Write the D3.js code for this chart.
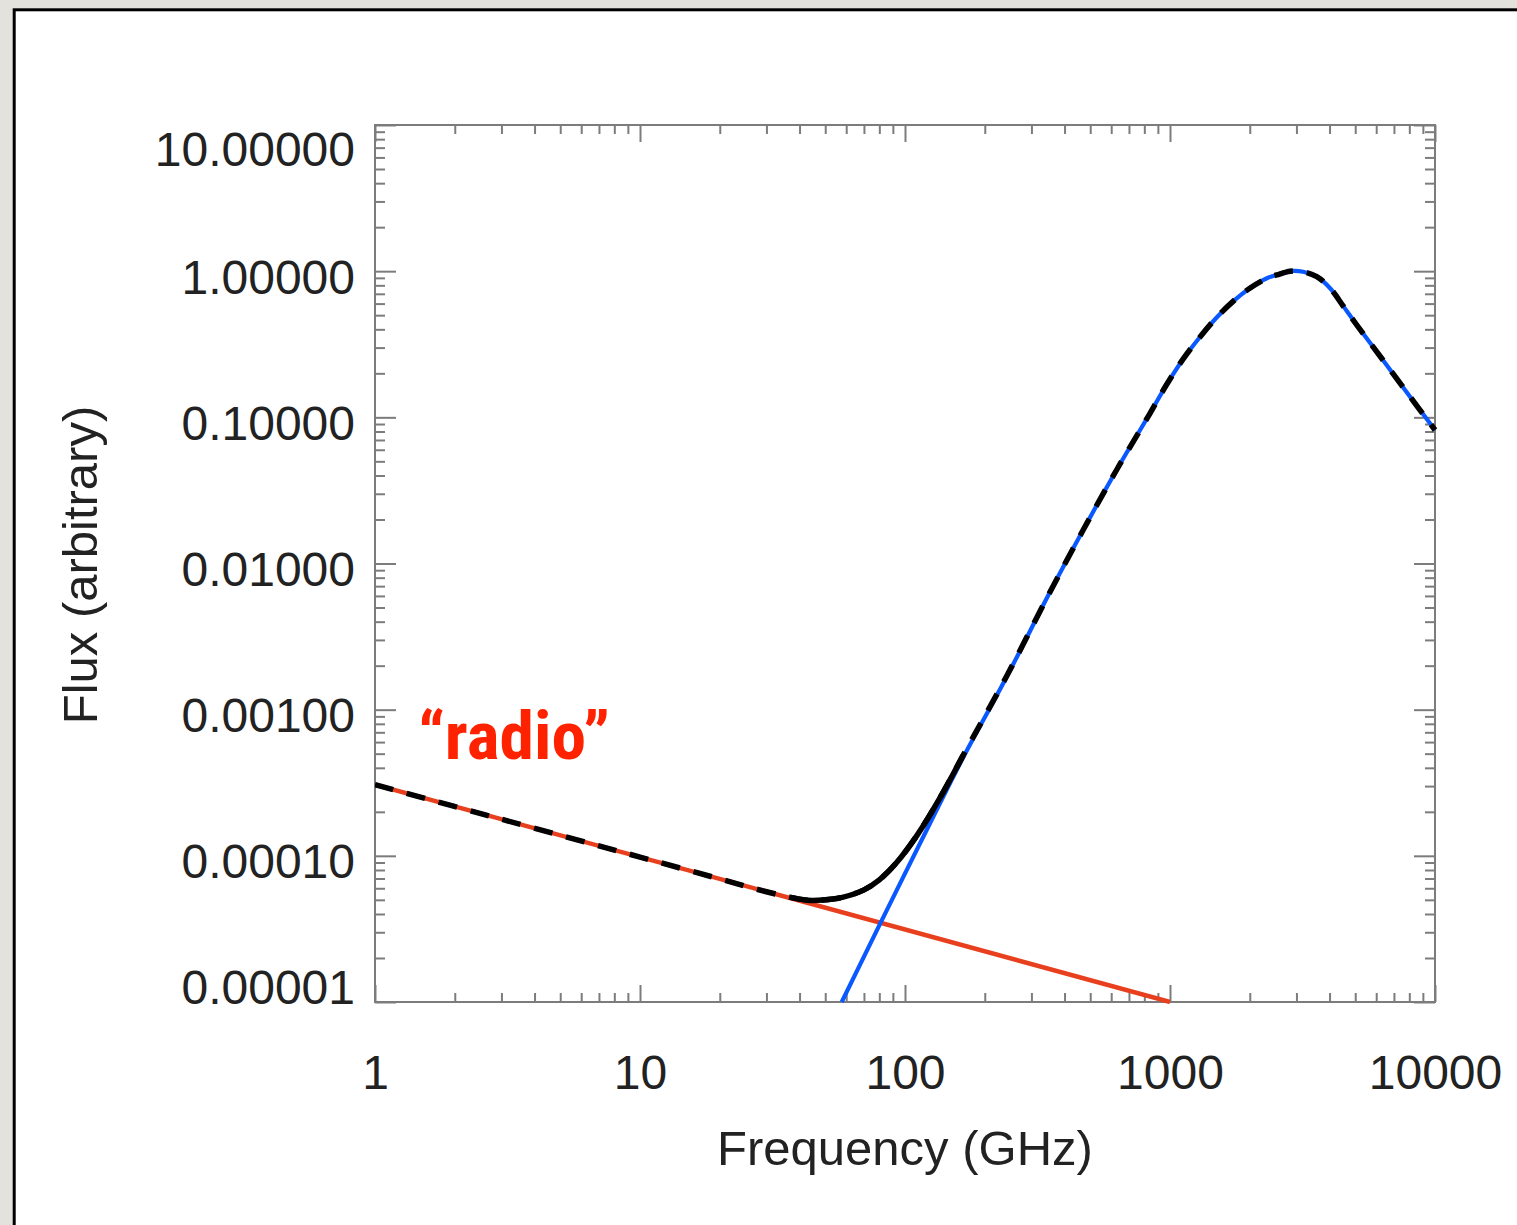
<!DOCTYPE html>
<html>
<head>
<meta charset="utf-8">
<script src="https://cdn.jsdelivr.net/npm/d3@7"></script>
<style>
  html, body { margin: 0; padding: 0; background: #e3e2dd; }
  svg { display: block; }
</style>
</head>
<body>
<svg id="chart" width="1517" height="1225"></svg>
<script>
// ---------------- data ----------------
const xTickValues = [1, 10, 100, 1000, 10000];
const xTickLabels = ["1", "10", "100", "1000", "10000"];
const yTickValues = [1e-5, 1e-4, 1e-3, 1e-2, 1e-1, 1, 10];
const yTickLabels = ["0.00001", "0.00010", "0.00100", "0.01000", "0.10000", "1.00000", "10.00000"];

// "radio" power law (red)
const radioNu   = [1, 1000];
const radioFlux = [3.07e-4, 1.0e-5];

// thermal dust (blue)
const dustNu   = [57.7, 80.5, 124.3, 165.5, 242, 352.5, 469.6, 629.4, 840.6, 970, 1120, 1300, 1500, 1730, 2000, 2320, 2530, 2840, 3180, 3580, 4020, 4520, 5060, 6370, 8050, 10000];
const dustFlux = [1.0e-5, 3.42e-5, 1.67e-4, 4.68e-4, 1.68e-3, 6.38e-3, 0.01687, 0.0438, 0.1066, 0.167, 0.250, 0.356, 0.482, 0.621, 0.764, 0.894, 0.942, 1.0, 0.99, 0.917, 0.764, 0.572, 0.430, 0.2457, 0.1384, 0.0819];

// total (black)
const totalNu   = [1, 3, 10, 20, 30, 37, 43, 49, 58, 70, 80, 93, 111, 136, 165.5, 242, 352.5, 469.6, 629.4, 840.6, 970, 1120, 1300, 1500, 1730, 2000, 2320, 2530, 2840, 3180, 3580, 4020, 4520, 5060, 6370, 8050, 10000];
const totalFlux = [3.07e-4, 1.78e-4, 9.81e-5, 6.95e-5, 5.68e-5, 5.2e-5, 4.97e-5, 4.99e-5, 5.2e-5, 5.85e-5, 6.85e-5, 9.0e-5, 1.38e-4, 2.52e-4, 4.85e-4, 1.70e-3, 6.38e-3, 0.01687, 0.0438, 0.1066, 0.167, 0.250, 0.356, 0.482, 0.621, 0.764, 0.894, 0.942, 1.0, 0.99, 0.917, 0.764, 0.572, 0.430, 0.2457, 0.1384, 0.0819];
// frequency range where the total departs from both components (drawn solid)
const totalSolidRange = [36, 170];

const xTitle = "Frequency (GHz)";
const yTitle = "Flux (arbitrary)";
const annotation = "\u201Cradio\u201D";

// ---------------- layout ----------------
const X0 = 375, X1 = 1435, Y0 = 125, Y1 = 1002;
const svg = d3.select("#chart");

svg.append("rect")
  .attr("x", 14.2).attr("y", 9.8)
  .attr("width", 1600).attr("height", 1400)
  .attr("fill", "#ffffff").attr("stroke", "#000").attr("stroke-width", 3);

const x = d3.scaleLog().domain([1, 10000]).range([X0, X1]);
const y = d3.scaleLog().domain([1e-5, 10]).range([Y1, Y0]);

const minorX = x.ticks().filter(v => !xTickValues.some(t => Math.abs(t - v) / t < 1e-9));
const minorY = y.ticks().filter(v => !yTickValues.some(t => Math.abs(t - v) / t < 1e-9));

const axisColor = "#7c7c7c";
const font = "'Liberation Sans', Arial, Helvetica, sans-serif";

function styleAxis(g) {
  g.select(".domain").remove();
  g.selectAll(".tick line").attr("stroke", axisColor).attr("stroke-width", 2);
  g.attr("font-family", font).attr("font-size", 48);
  g.selectAll(".tick text").attr("fill", "#222");
}

// frame
svg.append("rect")
  .attr("x", X0).attr("y", Y0).attr("width", X1 - X0).attr("height", Y1 - Y0)
  .attr("fill", "none").attr("stroke", axisColor).attr("stroke-width", 2);

// bottom axis (major with labels, minor)
svg.append("g").attr("transform", `translate(0,${Y1})`)
  .call(d3.axisBottom(x).tickValues(xTickValues).tickSizeInner(-17).tickSizeOuter(0)
    .tickPadding(53).tickFormat((d, i) => xTickLabels[i]))
  .call(styleAxis);
svg.append("g").attr("transform", `translate(0,${Y1})`)
  .call(d3.axisBottom(x).tickValues(minorX).tickSizeInner(-9).tickSizeOuter(0).tickFormat(""))
  .call(styleAxis);
// top axis
svg.append("g").attr("transform", `translate(0,${Y0})`)
  .call(d3.axisTop(x).tickValues(xTickValues).tickSizeInner(-17).tickSizeOuter(0).tickFormat(""))
  .call(styleAxis);
svg.append("g").attr("transform", `translate(0,${Y0})`)
  .call(d3.axisTop(x).tickValues(minorX).tickSizeInner(-9).tickSizeOuter(0).tickFormat(""))
  .call(styleAxis);

// left axis
const gy = svg.append("g").attr("transform", `translate(${X0},0)`)
  .call(d3.axisLeft(y).tickValues(yTickValues).tickSizeInner(-21).tickSizeOuter(0)
    .tickPadding(20).tickFormat((d, i) => yTickLabels[i]))
  .call(styleAxis);
gy.selectAll(".tick text")
  .attr("dy", null)
  .attr("y", (d, i) => i === yTickValues.length - 1 ? 40 : (i === 0 ? 1 : 22));
svg.append("g").attr("transform", `translate(${X0},0)`)
  .call(d3.axisLeft(y).tickValues(minorY).tickSizeInner(-10).tickSizeOuter(0).tickFormat(""))
  .call(styleAxis);
// right axis
svg.append("g").attr("transform", `translate(${X1},0)`)
  .call(d3.axisRight(y).tickValues(yTickValues).tickSizeInner(-21).tickSizeOuter(0).tickFormat(""))
  .call(styleAxis);
svg.append("g").attr("transform", `translate(${X1},0)`)
  .call(d3.axisRight(y).tickValues(minorY).tickSizeInner(-10).tickSizeOuter(0).tickFormat(""))
  .call(styleAxis);

// titles
svg.append("text")
  .attr("x", 905).attr("y", 1165)
  .attr("text-anchor", "middle")
  .attr("font-family", font).attr("font-size", 49).attr("fill", "#222")
  .text(xTitle);
svg.append("text")
  .attr("transform", "translate(97,565) rotate(-90)")
  .attr("text-anchor", "middle")
  .attr("font-family", font).attr("font-size", 49).attr("fill", "#222")
  .text(yTitle);

// ---------------- curves ----------------
svg.append("clipPath").attr("id", "plotclip")
  .append("rect").attr("x", X0).attr("y", Y0 - 3).attr("width", X1 - X0 + 3).attr("height", Y1 - Y0 + 5);
const plot = svg.append("g").attr("clip-path", "url(#plotclip)");

const line = d3.line()
  .x(d => x(d[0])).y(d => y(d[1]))
  .curve(d3.curveCatmullRom.alpha(0.5));

const radio = radioNu.map((v, i) => [v, radioFlux[i]]);
const dust = dustNu.map((v, i) => [v, dustFlux[i]]);
const total = totalNu.map((v, i) => [v, totalFlux[i]]);
const totalSolid = total.filter(d => d[0] >= totalSolidRange[0] && d[0] <= totalSolidRange[1]);

plot.append("path").datum(radio).attr("d", line)
  .attr("fill", "none").attr("stroke", "#e8401f").attr("stroke-width", 4.5);
plot.append("path").datum(dust).attr("d", line)
  .attr("fill", "none").attr("stroke", "#0a58ff").attr("stroke-width", 4.2);
plot.append("path").datum(total).attr("d", line)
  .attr("fill", "none").attr("stroke", "#000").attr("stroke-width", 5.5)
  .attr("stroke-dasharray", "19,14");
plot.append("path").datum(totalSolid).attr("d", line)
  .attr("fill", "none").attr("stroke", "#000").attr("stroke-width", 5.5);

// annotation
svg.append("text")
  .attr("x", 418).attr("y", 759)
  .attr("font-family", "'Liberation Sans Narrow', 'Roboto Condensed', 'Liberation Sans', sans-serif")
  .attr("font-weight", "bold").attr("font-size", 66).attr("fill", "#ff2200")
  .attr("textLength", 192).attr("lengthAdjust", "spacingAndGlyphs")
  .text(annotation);
</script>
</body>
</html>
